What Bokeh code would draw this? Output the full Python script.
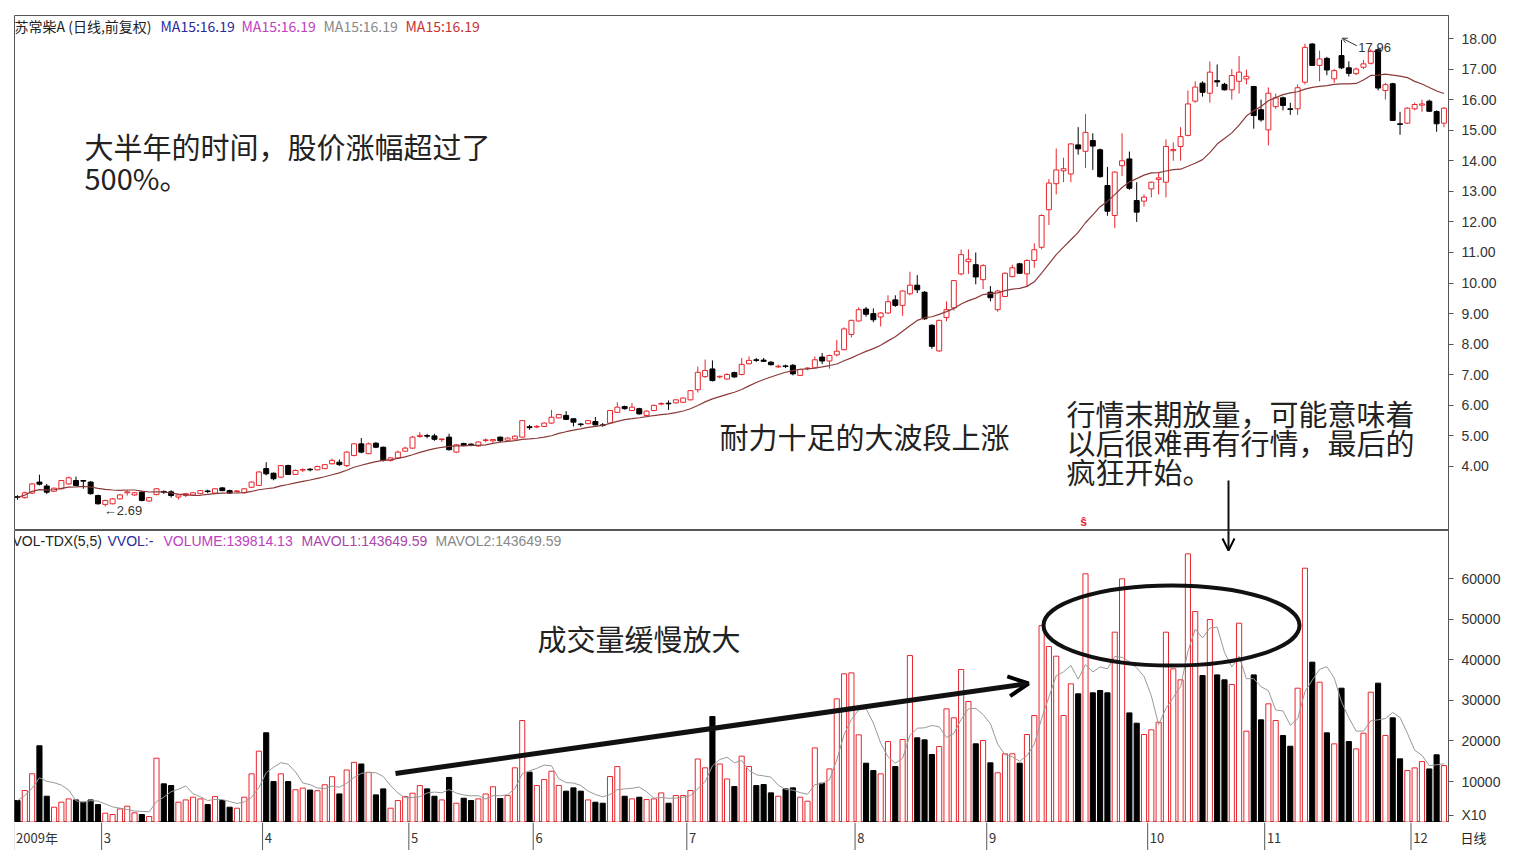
import numpy as np
import pandas as pd
from bokeh.plotting import figure
from bokeh.layouts import column
from bokeh.models import (ColumnDataSource, FixedTicker, PrintfTickFormatter, Label,
                          Arrow, OpenHead, Range1d)
from bokeh.embed import file_html
from bokeh.resources import INLINE
from bokeh.core.properties import value

opens = [
3.00,2.98,3.13,3.49,3.36,3.19,3.27,3.43,3.54,3.54,
3.49,3.05,2.76,2.78,2.94,3.14,3.07,3.16,2.87,3.08,
3.17,3.17,3.00,3.05,3.07,3.11,3.19,3.13,3.30,3.21,
3.18,3.14,3.32,3.38,3.93,3.78,3.65,4.03,3.74,3.88,
3.90,3.89,3.93,4.09,4.14,4.03,4.36,4.74,4.42,4.76,
4.63,4.20,4.28,4.50,4.60,4.98,5.01,5.00,4.88,4.96,
4.47,4.75,4.72,4.67,4.85,4.84,4.96,4.86,4.90,4.96,
5.30,5.29,5.31,5.42,5.59,5.67,5.56,5.39,5.40,5.47,
5.35,5.42,5.77,5.96,5.83,5.89,5.67,5.83,6.04,6.06,
6.08,6.10,6.18,6.51,6.94,7.19,6.93,6.86,7.07,7.01,
7.36,7.48,7.48,7.41,7.26,7.28,7.31,6.98,7.20,7.23,
7.58,7.45,7.65,7.82,8.32,8.76,9.15,9.00,8.89,9.02,
9.45,9.27,9.65,9.93,9.70,8.62,7.78,8.87,9.19,10.30,
10.70,10.60,10.11,9.70,9.13,9.56,10.21,10.63,10.30,10.74,
11.17,12.40,13.25,13.67,13.57,14.52,14.31,14.66,14.36,13.19,
12.21,13.84,14.06,12.70,12.68,13.08,13.39,13.30,14.33,14.47,
14.83,15.95,16.54,16.21,16.62,16.50,16.32,16.60,16.68,16.43,
15.67,15.01,15.77,16.06,15.70,15.70,16.57,17.82,17.12,17.35,
16.68,17.44,17.04,16.85,17.06,17.19,17.63,16.30,16.52,15.20,
15.23,15.70,15.82,15.95,15.61,15.23]

highs = [
3.06,3.18,3.46,3.73,3.43,3.31,3.56,3.67,3.67,3.55,
3.52,3.08,2.91,2.97,3.09,3.22,3.17,3.20,3.00,3.29,
3.22,3.22,3.08,3.13,3.16,3.23,3.24,3.29,3.33,3.24,
3.23,3.29,3.51,3.84,4.14,3.80,4.05,4.06,3.90,3.94,
3.95,4.03,4.08,4.26,4.23,4.50,4.76,4.93,4.78,4.80,
4.65,4.30,4.52,4.65,5.00,5.12,5.07,5.07,4.91,5.07,
4.73,4.78,4.76,4.82,4.92,4.90,4.98,4.95,5.02,5.52,
5.36,5.36,5.44,5.85,5.72,5.81,5.58,5.42,5.52,5.62,
5.42,5.85,6.10,5.99,6.08,5.92,5.83,6.02,6.10,6.16,
6.20,6.26,6.50,7.27,7.50,7.47,6.97,7.05,7.10,7.55,
7.60,7.55,7.55,7.45,7.33,7.33,7.35,7.20,7.24,7.60,
7.71,7.66,8.14,8.55,8.80,9.21,9.22,9.17,9.05,9.60,
9.60,9.76,10.37,10.26,9.74,8.65,8.80,9.40,10.10,11.10,
11.10,11.00,10.62,9.90,9.78,10.35,10.60,10.66,10.78,11.30,
12.25,13.40,14.40,14.10,14.58,15.10,15.53,14.90,14.40,13.80,
13.65,14.90,14.30,13.30,12.90,13.32,13.60,14.70,14.60,15.10,
16.30,16.60,16.60,17.25,17.15,16.55,17.00,17.43,16.98,16.45,
16.00,16.40,16.20,16.10,15.90,16.50,17.83,17.85,17.60,17.40,
17.00,17.96,17.25,17.05,17.30,17.65,17.70,16.55,16.55,15.60,
15.75,15.90,16.00,16.00,15.65,15.75]

lows = [
2.91,2.95,3.10,3.38,3.10,3.17,3.25,3.40,3.35,3.27,
3.08,2.75,2.69,2.76,2.92,3.05,3.04,2.86,2.85,3.06,
3.10,2.98,2.92,3.00,3.05,3.09,3.13,3.11,3.19,3.11,
3.15,3.12,3.30,3.36,3.71,3.55,3.62,3.72,3.72,3.82,
3.84,3.87,3.91,4.06,4.02,3.98,4.33,4.43,4.40,4.60,
4.16,4.16,4.26,4.48,4.58,4.94,4.92,4.84,4.80,4.52,
4.44,4.66,4.66,4.65,4.80,4.78,4.80,4.84,4.88,4.94,
5.20,5.25,5.29,5.40,5.57,5.52,5.31,5.30,5.38,5.34,
5.30,5.40,5.75,5.86,5.81,5.70,5.65,5.81,6.00,5.85,
6.06,6.08,6.16,6.42,6.90,6.78,6.88,6.84,6.90,6.98,
7.34,7.42,7.42,7.30,7.22,7.22,6.98,6.96,7.15,7.21,
7.35,7.20,7.60,7.80,8.22,8.74,8.90,8.72,8.58,9.00,
9.22,8.93,9.60,9.67,8.80,7.85,7.75,8.75,9.10,10.25,
10.30,9.96,9.80,9.40,9.06,9.54,10.19,10.30,9.90,10.50,
11.10,11.90,12.90,13.30,13.30,14.20,13.76,13.70,13.45,12.20,
11.80,13.50,13.05,12.00,12.50,12.80,12.90,12.80,14.00,14.00,
14.80,15.90,16.10,15.90,16.42,16.30,16.00,16.20,16.50,15.05,
15.28,14.50,15.70,15.65,15.50,15.50,16.50,17.10,16.60,16.80,
16.55,17.00,16.76,16.80,17.00,17.15,16.30,16.00,15.30,14.85,
15.20,15.65,15.60,15.60,14.95,15.10]

closes = [
2.99,3.14,3.43,3.42,3.16,3.29,3.54,3.63,3.38,3.52,
3.11,2.78,2.89,2.94,3.07,3.17,3.14,2.89,2.98,3.27,
3.16,3.05,3.07,3.11,3.14,3.21,3.18,3.27,3.21,3.13,
3.20,3.27,3.49,3.82,3.76,3.60,4.03,3.74,3.87,3.90,
3.89,4.00,4.06,4.20,4.06,4.47,4.74,4.47,4.74,4.63,
4.20,4.28,4.47,4.60,4.96,5.02,4.99,4.89,4.90,4.55,
4.71,4.69,4.71,4.80,4.87,4.88,4.84,4.93,4.99,5.50,
5.27,5.31,5.42,5.61,5.70,5.54,5.45,5.37,5.50,5.36,
5.34,5.83,5.94,5.89,5.94,5.72,5.81,6.00,6.06,6.05,
6.18,6.24,6.48,7.08,7.14,6.81,6.95,7.01,6.93,7.34,
7.47,7.47,7.44,7.33,7.28,7.27,7.03,7.17,7.22,7.49,
7.45,7.63,7.77,8.50,8.78,9.13,8.98,8.80,9.02,9.39,
9.27,9.74,9.93,9.78,8.83,7.93,8.78,9.13,10.08,10.93,
10.78,10.20,10.57,9.52,9.74,10.32,10.50,10.32,10.74,11.09,
12.21,13.27,13.70,13.74,14.55,14.39,14.93,14.48,13.48,12.35,
13.63,14.00,13.10,12.32,12.81,13.30,13.44,14.47,14.37,14.79,
15.86,16.41,16.24,16.90,16.58,16.32,16.79,16.90,16.76,15.48,
15.34,16.21,16.06,15.81,15.68,16.39,17.71,17.12,17.33,16.97,
16.95,17.04,16.86,17.00,17.17,17.58,16.38,16.49,15.32,15.19,
15.72,15.84,15.86,15.62,15.21,15.72]

volumes = [
5320,7780,11900,18800,6380,3670,4900,5720,5470,4900,
5470,4320,2200,1870,3260,3920,2280,1870,1380,15740,
9420,9010,4900,5470,6130,5720,4320,6290,5310,3670,
3420,6130,11880,17470,22000,9990,11880,9990,7970,8380,
7890,7730,9200,11170,6940,12830,14720,14310,12260,6700,
8180,3420,5310,6290,7110,9000,8180,6370,5470,11000,
4650,5880,5310,5720,6940,8700,5800,6540,13370,25020,
12300,9000,10490,12540,9000,7620,8430,7620,5470,4900,
4650,11230,13680,6370,5720,6130,5550,5720,7190,4650,
6540,6540,7780,15540,13370,26000,14310,10610,8750,16240,
13690,9000,9250,7200,6370,8180,8430,6130,5140,18270,
9580,13100,30360,36520,36760,21490,14510,12700,11880,19840,
13680,20340,41020,20760,20260,16650,18620,27890,25680,37580,
29700,19280,20100,14600,12140,16820,16820,14510,21570,26250,
48410,43240,40860,26250,34050,31590,61150,31840,32410,31840,
46780,59920,26900,24360,21570,22720,24600,46780,37750,35040,
66070,51870,36100,49900,36260,35040,33890,48990,22400,36260,
25180,29130,25020,21320,18690,32980,62540,39400,34470,21980,
19270,32980,19840,18030,21900,31990,34220,21320,25680,15580,
12700,13350,14900,13100,16570,13930]

month_labels = ["2009年", "3", "4", "5", "6", "7", "8", "9", "10", "11", "12"]
month_start = [0, 12, 34, 54, 71, 92, 115, 133, 155, 171, 191]
price_ticks = [4, 5, 6, 7, 8, 9, 10, 11, 12, 13, 14, 15, 16, 17, 18]
vol_ticks = [10000, 20000, 30000, 40000, 50000, 60000]
vol_unit_tick = 1600
vol_unit_label = "X10"

n = len(closes)
idx = np.arange(n)
o = np.array(opens); h = np.array(highs); l = np.array(lows); c = np.array(closes)
vol = np.array(volumes, dtype=float)
up = c >= o
RED = "#e8262d"
BLACK = "#000000"
col = np.where(up, RED, BLACK)
fill = np.where(up, "white", BLACK)
top = np.maximum(o, c)
bot = np.minimum(o, c)
top = np.where(top - bot < 0.02, bot + 0.02, top)
ma15 = pd.Series(c).rolling(15, min_periods=1).mean().values
vma5 = pd.Series(vol).rolling(5, min_periods=1).mean().values

src = ColumnDataSource(dict(x=idx, o=o, h=h, l=l, c=c, top=top, bot=bot,
                            col=col, fill=fill, vol=vol, ma=ma15, vma=vma5))

# pixel -> data helpers (layout only)
X0, DX = 17.0, 7.315
def px(xp): return (xp - X0) / DX
def pp(yp): return 18 - (yp - 38) / 30.57
def pv(yp): return (821.6 - yp) / 40.6 * 10000

FONT = "Noto Sans CJK SC"
AXF = "Liberation Sans"
xr = Range1d(px(14), px(1448))

def style_right_axis(fig, ticks, fmt):
    ax = fig.yaxis[0]
    ax.ticker = FixedTicker(ticks=ticks)
    ax.formatter = PrintfTickFormatter(format=fmt)
    ax.major_label_text_font = AXF
    ax.major_label_text_font_size = "14px"
    ax.major_label_text_color = "#333333"
    ax.major_tick_out = 5
    ax.major_tick_in = 0
    ax.minor_tick_line_color = None
    ax.axis_line_color = "#555555"
    ax.major_tick_line_color = "#555555"
    ax.major_label_standoff = 8
    return ax

# ---------- price panel ----------
p = figure(frame_width=1434, frame_height=515, x_range=xr, y_range=Range1d(pp(530), pp(15)),
           output_backend="svg", toolbar_location=None, y_axis_location="right",
           x_axis_location=None, min_border_left=14, min_border_right=74,
           min_border_top=15, min_border_bottom=0, outline_line_color="#555555",
           background_fill_color="white", border_fill_color="white")
p.grid.visible = False
style_right_axis(p, price_ticks, "%.2f")
p.segment(x0="x", y0="l", x1="x", y1="h", color="col", line_width=1, source=src)
p.vbar(x="x", width=0.68, top="top", bottom="bot", fill_color="fill", line_color="col",
       line_width=1, source=src)
p.line("x", "ma", source=src, color="#8b3a3a", line_width=1.2)

hdr = [("苏常柴A (日线,前复权)", 14, "#222222"), ("MA15:16.19", 160, "#2a2a9a"),
       ("MA15:16.19", 241, "#c040c0"), ("MA15:16.19", 323, "#888888"),
       ("MA15:16.19", 405, "#c83232")]
for t, xp, cl in hdr:
    p.add_layout(Label(x=px(xp), y=pp(25), text=t, text_font=FONT, text_font_size="14px",
                       text_color=cl, text_baseline="middle"))

big = dict(text_font=FONT, text_font_size="29px", text_color="#222222", text_baseline="middle")
p.add_layout(Label(x=px(84), y=pp(145), text="大半年的时间，股价涨幅超过了", **big))
p.add_layout(Label(x=px(84), y=pp(176), text="500%。", **big))
p.add_layout(Label(x=px(719), y=pp(435), text="耐力十足的大波段上涨", **big))
p.add_layout(Label(x=px(1066), y=pp(412), text="行情末期放量，可能意味着", **big))
p.add_layout(Label(x=px(1066), y=pp(441), text="以后很难再有行情，最后的", **big))
p.add_layout(Label(x=px(1066), y=pp(470), text="疯狂开始。", **big))

imin = int(np.argmin(l)); imax = int(np.argmax(h))
p.add_layout(Label(x=imin - 0.2, y=l[imin] - 0.12, text="←%.2f" % l[imin], text_font=AXF,
                   text_font_size="13px", text_color="#333333", text_baseline="middle"))
p.add_layout(Arrow(x_start=imax + 2.1, y_start=h[imax] - 0.2, x_end=imax + 0.1, y_end=h[imax] + 0.05,
                   end=OpenHead(size=5, line_width=1, line_color="#333333"),
                   line_color="#333333", line_width=1))
p.add_layout(Label(x=imax + 2.3, y=h[imax] - 0.25, text="%.2f" % h[imax], text_font=AXF,
                   text_font_size="13px", text_color="#333333", text_baseline="middle"))
p.add_layout(Label(x=px(1083), y=pp(521), text="ŝ", text_font=AXF, text_font_size="12px",
                   text_color=RED, text_align="center", text_baseline="middle",
                   text_font_style="bold"))
p.add_layout(Arrow(x_start=px(1228), y_start=pp(480), x_end=px(1228), y_end=pp(531),
                   end=None, line_color="#111111", line_width=2))

# ---------- volume panel ----------
v = figure(frame_width=1434, frame_height=292, x_range=xr, y_range=Range1d(pv(822), pv(530)),
           output_backend="svg", toolbar_location=None, y_axis_location="right",
           x_axis_location=None, min_border_left=14, min_border_right=74,
           min_border_top=0, min_border_bottom=0, outline_line_color="#555555",
           background_fill_color="white", border_fill_color="white")
v.grid.visible = False
vax = style_right_axis(v, vol_ticks + [vol_unit_tick], "%d")
vax.major_label_overrides = {vol_unit_tick: vol_unit_label}
v.vbar(x="x", width=0.7, top="vol", bottom=0, fill_color="fill", line_color="col",
       line_width=1, source=src)
v.line("x", "vma", source=src, color="#999999", line_width=1)

vhdr = [("VOL-TDX(5,5)", 12, "#222222"), ("VVOL:-", 107, "#2a2a9a"),
        ("VOLUME:139814.13", 163, "#c040c0"), ("MAVOL1:143649.59", 301, "#aa44aa"),
        ("MAVOL2:143649.59", 435, "#888888")]
for t, xp, cl in vhdr:
    v.add_layout(Label(x=px(xp), y=pv(540), text=t, text_font=AXF, text_font_size="14px",
                       text_color=cl, text_baseline="middle"))
v.add_layout(Label(x=px(537), y=pv(637), text="成交量缓慢放大", **big))
v.add_layout(Arrow(x_start=px(395), y_start=pv(773), x_end=px(1028), y_end=pv(683),
                   end=OpenHead(size=20, line_width=4), line_width=5, line_color="#111111"))
v.ellipse(x=[px(1171)], y=[pv(625)], width=256 / DX, height=80 / 40.6 * 10000,
          fill_color=None, line_color="#111111", line_width=4)
v.add_layout(Arrow(x_start=px(1228), y_start=pv(529), x_end=px(1228), y_end=pv(550),
                   end=OpenHead(size=12, line_width=2), line_color="#111111", line_width=2))

# ---------- date strip ----------
d = figure(frame_width=1508, frame_height=28, x_range=Range1d(px(14), px(1522)),
           y_range=Range1d(0, 1),
           output_backend="svg", toolbar_location=None, x_axis_location=None,
           y_axis_location=None, min_border_left=14, min_border_right=0,
           min_border_top=0, min_border_bottom=0, outline_line_color=None,
           background_fill_color="white", border_fill_color="white")
d.grid.visible = False
mx = np.array(month_start) - 0.5
d.segment(x0=mx, y0=np.zeros(len(mx)), x1=mx, y1=np.ones(len(mx)), line_color="#555555")
d.text(x=mx + 0.3, y=np.full(len(mx), 0.45), text=month_labels, text_font=value(FONT),
       text_font_size="13px", text_color="#333333", text_baseline="middle", text_align="left")
d.add_layout(Label(x=px(1460), y=0.45, text="日线", text_font=FONT, text_font_size="13px",
                   text_color="#222222", text_baseline="middle"))

layout = column(p, v, d, spacing=0)
open("out.html", "w").write(file_html(layout, INLINE))
